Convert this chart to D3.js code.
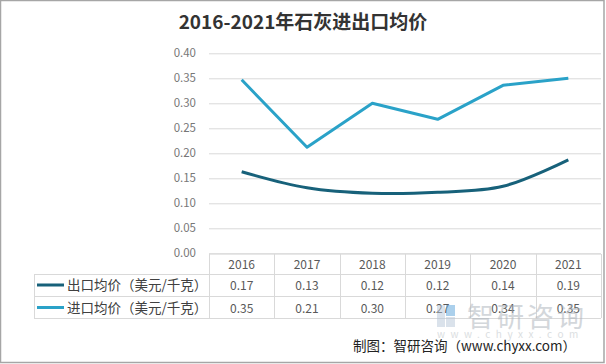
<!DOCTYPE html>
<html><head><meta charset="utf-8">
<script src="https://cdn.jsdelivr.net/npm/d3@7"></script>
<style>
html,body{margin:0;padding:0;background:#fff;}
svg{display:block;}
</style></head>
<body>
<svg id="c" width="606" height="364"></svg>
<script>
const title = "2016-2021年石灰进出口均价";
const years = ["2016","2017","2018","2019","2020","2021"];
const seriesNames = ["出口均价（美元/千克）","进口均价（美元/千克）"];
const exportValues = [0.163,0.131,0.120,0.122,0.134,0.187];
const importValues = [0.347,0.212,0.300,0.268,0.336,0.350];
const exportLabels = ["0.17","0.13","0.12","0.12","0.14","0.19"];
const importLabels = ["0.35","0.21","0.30","0.27","0.34","0.35"];
const yTicks = [0,0.05,0.10,0.15,0.20,0.25,0.30,0.35,0.40];
const colors = ["#17617a","#2aa2c8"];
const source = "制图：智研咨询（www.chyxx.com）";

const svg = d3.select("#c");
const font = "'Microsoft YaHei','Noto Sans CJK SC','Noto Sans',sans-serif";

// outer border
svg.append("rect").attr("x",0.5).attr("y",0.5).attr("width",603.5).attr("height",362)
  .attr("fill","#fff").attr("stroke","#a6a6a6").attr("stroke-width",1.5);

const pL = 209, pR = 601, pT = 53.3, pB = 253.3;
const x = d3.scaleBand().domain(years).range([pL,pR]);
const y = d3.scaleLinear().domain([0,0.40]).range([pB,pT]);

// title
svg.append("text").attr("x",303).attr("y",29).attr("text-anchor","middle")
  .attr("font-family",font).attr("font-weight","bold").attr("font-size",19)
  .attr("fill","#333").text(title);

// gridlines
const yAxis = d3.axisLeft(y).tickValues(yTicks).tickFormat(d3.format(".2f")).tickSize(-(pR-pL)).tickPadding(13);
const ga = svg.append("g").attr("transform",`translate(${pL},0)`).call(yAxis);
ga.select(".domain").remove();
ga.selectAll(".tick line").attr("stroke","#d9d9d9").attr("stroke-width",1);
ga.selectAll(".tick text").attr("font-family",font).attr("font-size",11.5).attr("fill","#777");

// table
const rowH = [254, 274, 296, 318];
const tableLeft = 34;
const tg = svg.append("g").attr("stroke","#d9d9d9").attr("stroke-width",1).attr("fill","none");
tg.append("line").attr("x1",pL).attr("x2",pR).attr("y1",rowH[0]).attr("y2",rowH[0]);
[1,2,3].forEach(i=>tg.append("line").attr("x1",tableLeft).attr("x2",pR).attr("y1",rowH[i]+0.5).attr("y2",rowH[i]+0.5));
tg.append("line").attr("x1",tableLeft+0.5).attr("x2",tableLeft+0.5).attr("y1",rowH[1]).attr("y2",rowH[3]);
years.forEach(yr=>{
  const xx = Math.round(x(yr))+0.5;
  tg.append("line").attr("x1",xx).attr("x2",xx).attr("y1",rowH[0]).attr("y2",rowH[3]);
});
tg.append("line").attr("x1",pR+0.5).attr("x2",pR+0.5).attr("y1",rowH[0]).attr("y2",rowH[3]);

const cellText = (xx,yy,t)=>svg.append("text").attr("x",xx).attr("y",yy).attr("text-anchor","middle")
  .attr("font-family",font).attr("font-size",12).attr("fill","#595959").text(t);
years.forEach((yr,i)=>{
  const cx = x(yr)+x.bandwidth()/2;
  cellText(cx,269,yr);
  cellText(cx,290,exportLabels[i]);
  cellText(cx,313,importLabels[i]);
});

// legend in table
[0,1].forEach(i=>{
  const cy = i===0 ? 285 : 307.5;
  svg.append("line").attr("x1",37).attr("x2",64).attr("y1",cy).attr("y2",cy)
    .attr("stroke",colors[i]).attr("stroke-width",3);
  svg.append("text").attr("x",67).attr("y",cy+5).attr("font-family",font).attr("font-size",13.5)
    .attr("fill","#404040").text(seriesNames[i]);
});

// lines
const cxf = d=>x(d)+x.bandwidth()/2;
const lineExp = d3.line().x((d,i)=>cxf(years[i])).y(d=>y(d)).curve(d3.curveCatmullRom.alpha(0.5));
const lineImp = d3.line().x((d,i)=>cxf(years[i])).y(d=>y(d));
svg.append("path").datum(importValues).attr("d",lineImp).attr("fill","none")
  .attr("stroke",colors[1]).attr("stroke-width",3).attr("stroke-linejoin","round");
svg.append("path").datum(exportValues).attr("d",lineExp).attr("fill","none")
  .attr("stroke",colors[0]).attr("stroke-width",3).attr("stroke-linejoin","round");

// watermark
const wm = svg.append("g").attr("opacity",0.5);
wm.append("rect").attr("x",437).attr("y",305).attr("width",8).attr("height",22).attr("fill","#b7c7d8");
wm.append("rect").attr("x",446).attr("y",305).attr("width",9).attr("height",11).attr("fill","#5aa3da");
wm.append("rect").attr("x",446).attr("y",317).attr("width",9).attr("height",10).attr("fill","#b7c7d8");
wm.append("text").attr("x",467).attr("y",327).attr("font-family",font).attr("font-size",27)
  .attr("fill","#a9b0b8").attr("letter-spacing",3).text("智研咨询");
wm.append("text").attr("x",437).attr("y",338).attr("font-family",font).attr("font-size",10)
  .attr("fill","#b8bec4").attr("letter-spacing",5.5).text("www.chyxx.com");

// source
svg.append("text").attr("x",353).attr("y",351).attr("font-family",font).attr("font-size",13.5)
  .attr("fill","#222").text(source);
</script>
</body></html>
